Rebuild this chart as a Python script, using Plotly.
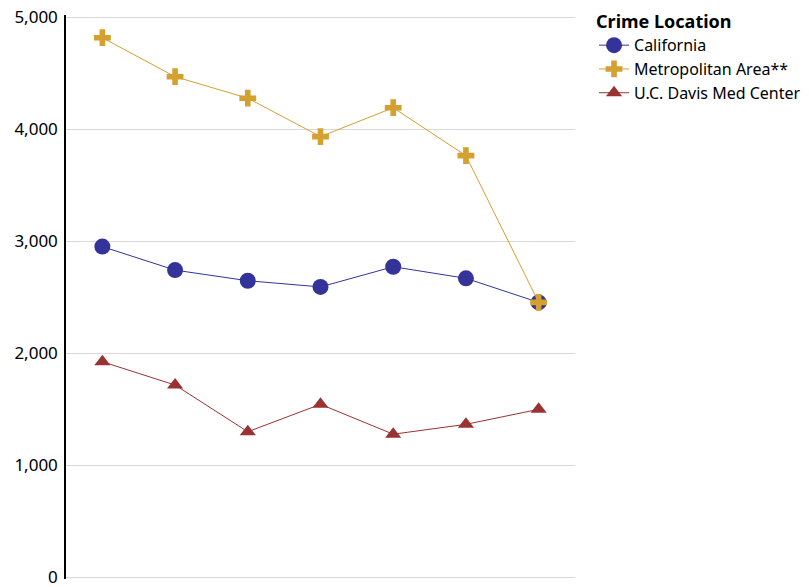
import plotly.graph_objects as go

categories = ["1", "2", "3", "4", "5", "6", "7"]
california = [2950, 2740, 2645, 2590, 2770, 2667, 2452]
metro_area = [4815, 4467, 4275, 3932, 4190, 3762, 2452]
ucd_med = [1922, 1714, 1297, 1542, 1275, 1363, 1497]
y_ticks = [0, 1000, 2000, 3000, 4000, 5000]

FONT = "Noto Sans, DejaVu Sans, sans-serif"

fig = go.Figure()
fig.add_trace(go.Scatter(
    x=categories, y=california, name="California", mode="lines+markers",
    line=dict(color="#333399", width=1),
    marker=dict(symbol="circle", size=16, color="#333399"),
))
fig.add_trace(go.Scatter(
    x=categories, y=metro_area, name="Metropolitan Area**", mode="lines+markers",
    line=dict(color="#D4A030", width=1),
    marker=dict(symbol="cross", size=14, color="#D4A030"),
))
fig.add_trace(go.Scatter(
    x=categories, y=ucd_med, name="U.C. Davis Med Center", mode="lines+markers",
    line=dict(color="#993333", width=1),
    marker=dict(symbol="triangle-up", size=14, color="#993333"),
))

# page body has an 8px margin, so the figure is sized/positioned to compensate;
# a tiny range pad keeps the 0 and 5,000 gridlines visible
pad = 2 / 0.112
fig.update_layout(
    width=801, height=579,
    margin=dict(l=58, r=234, t=7, b=8, autoexpand=False),
    paper_bgcolor="white", plot_bgcolor="white",
    font=dict(family=FONT, size=16, color="#000000"),
    showlegend=True,
    legend=dict(
        title=dict(text="<b>Crime Location</b>", font=dict(family=FONT, size=18)),
        x=1.0374, y=1.018, xanchor="left", yanchor="top",
        font=dict(family=FONT, size=16),
        tracegroupgap=0, itemwidth=30,
        bgcolor="rgba(0,0,0,0)",
    ),
    xaxis=dict(
        type="category", range=[-0.5, 6.5], showticklabels=False,
        showgrid=False, zeroline=False, showline=False, ticks="",
        automargin=False,
    ),
    yaxis=dict(
        range=[-pad, 5000 + pad], tickmode="array", tickvals=y_ticks,
        tickformat=",d",
        showgrid=True, gridcolor="#d9d9d9", gridwidth=1,
        zeroline=False, showline=True, linecolor="#000000", linewidth=1.5,
        ticks="", ticklabelstandoff=3, automargin=False,
        ticklabeloverflow="allow",
        tickfont=dict(family=FONT, size=17),
    ),
)

fig.write_html("out.html")
